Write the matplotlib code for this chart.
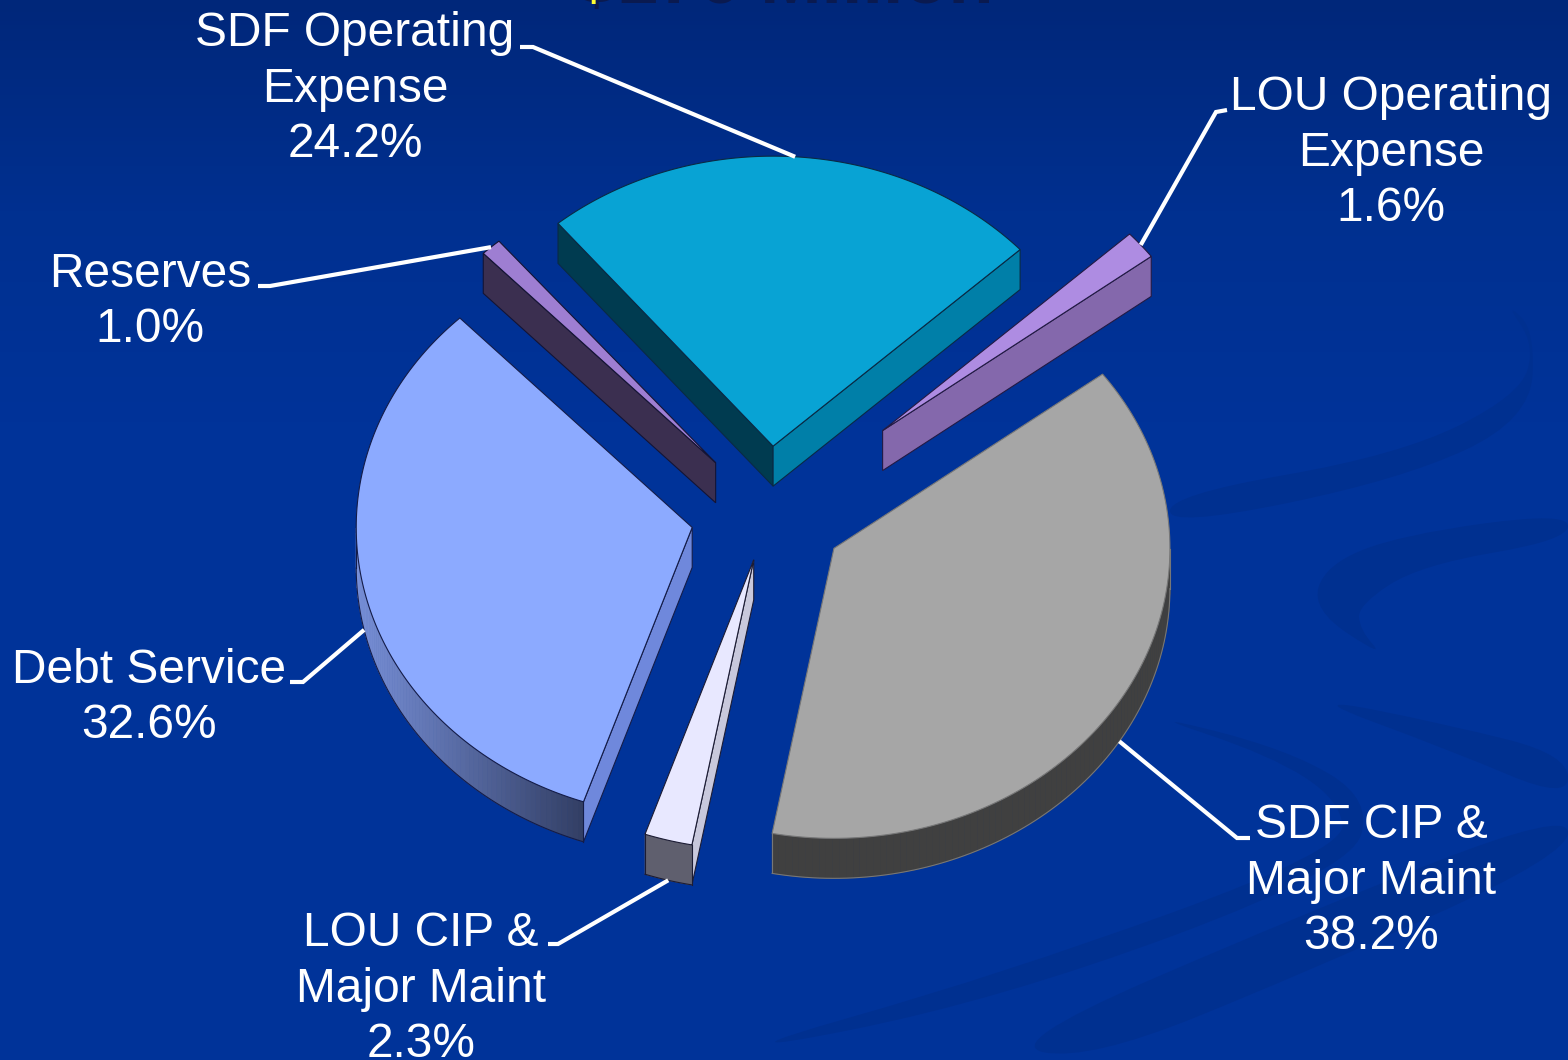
import numpy as np
import matplotlib
matplotlib.use('Agg')
import matplotlib.pyplot as plt
from matplotlib.colors import LinearSegmentedColormap, to_rgb
from matplotlib.patches import PathPatch
from matplotlib.path import Path

# Chart values, clockwise from the first slice
slices = ['SDF Operating\nExpense', 'LOU Operating\nExpense', 'SDF CIP &\nMajor Maint',
          'LOU CIP &\nMajor Maint', 'Debt Service', 'Reserves']
shares = [24.2, 1.6, 38.2, 2.3, 32.6, 1.0]
title = '$176 Million'

# Pie layout in pixels
cx, cy = 768, 513
rx, ry = 336, 290
depth = 40
start_angle = -39.8
explode = [0.231, 0.444, 0.231, 0.167, 0.231, 0.233]

top_colors = ['#08a3d4', '#ae8ce2', '#a6a6a6', '#e8e8ff', '#8caaff', '#9e7ed2']
cut_start_colors = ['#003b50', '#8468ac', '#404040', '#c8c8dc', '#6f88dc', '#3b2f50']
cut_end_colors = ['#007fa8', '#8468ac', '#404040', '#c8c8dc', '#6f88dc', '#3b2f50']
rim_left_colors = ['#007fa8', '#8468ac', '#404040', '#5f5f6e', '#7890d8', '#3b2f50']
rim_right_colors = ['#007fa8', '#8468ac', '#404040', '#5f5f6e', '#323e64', '#3b2f50']
edge_colors = ['#0a2a44', '#221a44', '#777777', '#1c1c34', '#141c48', '#141434']

# Label placement
label_pos = [(355, 89), (1391, 153), (1371, 881), (421, 989), (149, 698), (150, 302)]
leader_knee = [[(520, 47), (533, 47)], [(1227, 110), (1216, 112)], [(1250, 838), (1237, 838)],
               [(548, 944), (558, 944)], [(290, 682), (303, 682)], [(258, 286), (270, 286)]]
leader_front = [False, False, True, True, True, False]

# Faint swirls in the backdrop
swirls = [
    [(1568, 512), (1400, 535), (1325, 565), (1312, 610), (1385, 658), (1360, 630), (1358, 605),
     (1420, 565), (1568, 540)],
    [(1505, 302), (1535, 345), (1520, 395), (1400, 455), (1170, 495), (1170, 527), (1400, 480),
     (1530, 420), (1535, 330)],
    [(1300, 695), (1450, 725), (1568, 755), (1568, 800), (1450, 750)],
    [(1140, 712), (1270, 755), (1340, 800), (1345, 850), (1000, 975), (700, 1060), (1000, 1000),
     (1350, 870), (1372, 800), (1290, 750)],
    [(1000, 1045), (1300, 915), (1568, 810), (1568, 855), (1300, 975), (1090, 1060)],
]


def rim_point(ax_x, ax_y, angle):
    t = np.radians(angle)
    return ax_x + rx * np.sin(t), ax_y - ry * np.cos(t)


def smooth_blob(points):
    # closed quadratic spline through the midpoints of the control points
    pts = np.array(points, dtype=float)
    mids = (pts + np.roll(pts, -1, axis=0)) / 2
    verts = [mids[-1]]
    codes = [Path.MOVETO]
    for p, m in zip(pts, mids):
        verts += [p, m]
        codes += [Path.CURVE3, Path.CURVE3]
    return Path(verts, codes)


plt.rcParams['font.family'] = ['Liberation Sans', 'DejaVu Sans']
fig = plt.figure(figsize=(15.68, 10.6), dpi=100)
ax = fig.add_axes([0, 0, 1, 1])

# Backdrop
back = LinearSegmentedColormap.from_list('back', [(0, '#00277a'), (0.2, '#003090'), (0.4, '#003399'), (1, '#003399')])
ax.imshow(np.linspace(0, 1, 256).reshape(-1, 1), cmap=back, extent=[0, 1568, 1060, 0], aspect='auto', zorder=0)
for blob in swirls:
    ax.add_patch(PathPatch(smooth_blob(blob), fc='#003090', ec='none', zorder=1))

# Title, cut off by the top edge
ax.text(785, 3, title, color='#0a1a50', fontsize=53, fontweight='bold', ha='center', va='baseline', zorder=2)
ax.text(782, -2, title, color='#ffff33', fontsize=53, fontweight='bold', ha='center', va='baseline', zorder=2)

# Slices
angle = start_angle
for i, share in enumerate(shares):
    sweep = share / 100 * 360
    a0, a1 = angle, angle + sweep
    mid = (a0 + a1) / 2
    angle = a1
    m = np.radians(mid)
    ox = cx + explode[i] * rx * np.sin(m)
    oy = cy - explode[i] * ry * np.cos(m)

    arc = np.linspace(a0, a1, 120)
    ax_pts = np.array([rim_point(ox, oy, a) for a in arc])
    edge = edge_colors[i]

    # cut faces, only the ones turned towards the viewer
    cuts = []
    if np.sin(np.radians(a0)) < 0:
        cuts.append((a0, cut_start_colors[i]))
    if np.sin(np.radians(a1)) > 0:
        cuts.append((a1, cut_end_colors[i]))
    for a, col in cuts:
        px, py = rim_point(ox, oy, a)
        ax.fill([ox, px, px, ox], [oy, py, py + depth, oy + depth], fc=col, ec=edge, lw=0.8, zorder=3)

    # outer wall, only where it faces the viewer
    front = ax_pts[(np.cos(np.radians(arc)) < 0)]
    if len(front) > 1:
        xmin, xmax = front[:, 0].min(), front[:, 0].max()
        left, right = np.array(to_rgb(rim_left_colors[i])), np.array(to_rgb(rim_right_colors[i]))
        for p, q in zip(front[:-1], front[1:]):
            frac = ((p[0] + q[0]) / 2 - xmin) / max(xmax - xmin, 1)
            col = left + (right - left) * frac
            ax.fill([p[0], q[0], q[0], p[0]], [p[1], q[1], q[1] + depth, p[1] + depth],
                    fc=col, ec=col, lw=0.5, zorder=4)
        ax.plot(front[:, 0], front[:, 1] + depth, color=edge, lw=0.8, zorder=4)
        ax.plot([front[0, 0], front[0, 0]], [front[0, 1], front[0, 1] + depth], color=edge, lw=0.8, zorder=4)
        ax.plot([front[-1, 0], front[-1, 0]], [front[-1, 1], front[-1, 1] + depth], color=edge, lw=0.8, zorder=4)

    # top face
    ax.fill(np.r_[ox, ax_pts[:, 0]], np.r_[oy, ax_pts[:, 1]], fc=top_colors[i], ec=edge, lw=0.8, zorder=5)

    # leader and label
    lx, ly = rim_point(ox, oy, mid)
    if leader_front[i]:
        ly += depth
    knee = leader_knee[i]
    ax.plot([knee[0][0], knee[1][0], lx], [knee[0][1], knee[1][1], ly], color='white', lw=3,
            solid_joinstyle='miter', solid_capstyle='butt', zorder=6)
    ax.text(label_pos[i][0], label_pos[i][1], f'{slices[i]}\n{share:.1f}%', color='white', fontsize=34.5,
            ha='center', va='center', linespacing=1.3, zorder=7)

ax.set_xlim(0, 1568)
ax.set_ylim(1060, 0)
ax.axis('off')

fig.savefig('out.png', dpi=100)
